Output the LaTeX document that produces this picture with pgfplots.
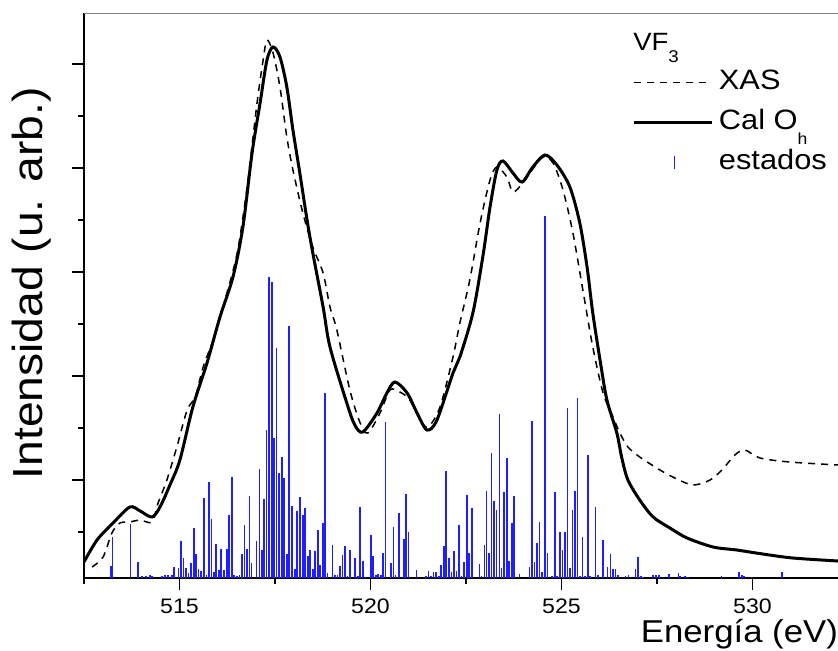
\documentclass[border=0pt]{standalone}
\usepackage{pgfplots}
\pgfplotsset{compat=1.18}
\usepackage{fontspec}
\setmainfont{Liberation Sans}[FakeStretch=1.1]
\definecolor{stemblue}{RGB}{30,30,255}
\begin{document}
\begin{tikzpicture}
\begin{axis}[
  scale only axis, width=377pt, height=282.5pt,
  xmin=512.5, xmax=532.24, ymin=0, ymax=565,
  axis x line*=bottom, axis y line*=left,
  axis line style={-, line width=0.75pt, black},
  xtick={515,520,525,530},
  minor xtick={512.5,517.5,522.5,527.5},
  ytick={98,202,306,410,514}, yticklabels={},
  minor ytick={46,150,254,358,462},
  tick align=outside, major tick length=6pt, minor tick length=3pt,
  tick style={black, line width=0.6pt},
  /pgf/number format/assume math mode=true,
  xticklabel style={/pgf/number format/1000 sep={}, font=\fontsize{10.5}{12}\selectfont, yshift=-1pt},
  xlabel={Energía (eV)},
  xlabel style={at={(axis description cs:1,-0.115)}, anchor=base east, xshift=3.5pt, font=\fontsize{15.8}{18}\selectfont},
  ylabel={Intensidad (u. arb.)},
  ylabel style={at={(axis description cs:-0.069,0.522)}, anchor=center, font=\fontsize{21}{24}\selectfont},
  legend image code/.code={\draw[#1] (0pt,0pt) -- (39pt,0pt);},
  legend style={at={(axis description cs:0.728,0.900)}, anchor=north west, draw=none, fill=none,
    inner sep=0pt, outer sep=0pt, row sep=7pt, font=\fontsize{14}{17}\selectfont,
    nodes={inner sep=0pt, text height=10pt, text depth=3pt},
    /tikz/every even column/.append style={column sep=3pt}},
  legend cell align=left,
]
\addlegendimage{black, line width=0.75pt, dash pattern=on 3.5pt off 3pt}
\addlegendentry{\hspace{2.5pt}XAS}
\addlegendimage{black, line width=1.5pt}
\addlegendentry{\hspace{2.5pt}Cal O\raisebox{-7.5pt}{\fontsize{8}{9}\selectfont h}}
\addlegendimage{legend image code/.code={\draw[stemblue, line width=0.6pt, solid] (20pt,-3.2pt) -- (20pt,3.2pt); \path[draw=none] (0pt,0pt) -- (39pt,0pt);}}
\addlegendentry{\hspace{2.5pt}estados}

% estados (stems)
\addplot[ycomb, stemblue, line width=0.8pt, no marks, forget plot] table {
513.20 12
513.25 41
513.72 54
513.92 16
514.02 2
514.12 2
514.23 3
514.28 2
514.54 2
514.62 3
514.70 3
514.80 3
514.85 11
514.97 10
515.04 37
515.10 20
515.17 10
515.24 5
515.30 15
515.38 50
515.43 24
515.50 9
515.57 7
515.64 80
515.71 3
515.77 96
515.84 59
515.90 6
515.96 34
516.03 8
516.09 29
516.16 8
516.24 29
516.30 63
516.37 101
516.43 3
516.50 2
516.57 3
516.63 24
516.70 53
516.76 29
516.83 82
516.89 15
517.02 37
517.09 109
517.16 28
517.22 79
517.28 148
517.35 301
517.42 296
517.48 140
517.54 230
517.61 105
517.68 121
517.74 100
517.81 24
517.87 252
517.95 72
518.02 9
518.08 67
518.15 81
518.23 63
518.29 70
518.36 22
518.42 28
518.49 9
518.55 27
518.62 48
518.68 13
518.75 55
518.81 185
518.87 5
519.01 33
519.07 3
519.14 3
519.20 12
519.27 23
519.33 32
519.40 2
519.46 28
519.60 20
519.67 2
519.73 71
519.80 17
519.87 1
520.01 43
520.07 22
520.14 3
520.20 4
520.27 3
520.33 25
520.39 156
520.53 15
520.60 51
520.66 3
520.74 65
520.87 39
520.93 84
521.00 46
521.20 8
521.46 2
521.52 7
521.59 2
521.65 6
521.71 6
521.79 2
521.85 13
521.92 32
521.98 107
522.05 20
522.12 6
522.18 27
522.25 7
522.31 53
522.38 2
522.45 16
522.52 83
522.58 25
522.65 70
522.85 14
522.91 2
522.98 33
523.04 87
523.11 25
523.17 125
523.24 77
523.30 68
523.38 164
523.43 10
523.50 86
523.57 120
523.63 17
523.70 55
523.76 82
523.90 4
524.16 11
524.23 157
524.29 16
524.36 35
524.43 56
524.49 6
524.57 362
524.63 25
524.76 2
524.83 86
524.89 2
524.96 46
525.03 28
525.09 46
525.16 170
525.22 10
525.29 68
525.35 87
525.42 180
525.48 2
525.55 41
525.62 2
525.69 123
525.75 2
525.89 71
525.96 3
526.08 38
526.21 11
526.28 24
526.35 9
526.41 9
526.48 3
526.68 2
526.75 3
526.94 9
527.01 21
527.08 2
527.14 1
527.40 3
527.48 3
527.55 3
527.81 4
528.06 5
528.10 2
528.23 2
528.32 1
529.19 2
529.65 6
529.72 3
529.78 2
529.98 1
530.78 6
};

% XAS
\addplot[black, line width=0.75pt, dash pattern=on 3.5pt off 3pt, smooth, no marks, forget plot] table {
512.71 11
513.00 21
513.23 45
513.44 55
513.70 56
513.97 58
514.28 56
514.44 75
514.67 98
514.93 131
515.20 168
515.41 181
515.62 211
515.88 238
516.19 278
516.51 325
516.77 391
517.03 475
517.19 518
517.29 538
517.45 525
517.63 491
517.81 441
517.97 408
518.23 365
518.49 331
518.76 305
518.94 271
519.12 248
519.46 188
519.73 155
519.93 145
520.25 165
520.51 188
520.77 186
521.03 178
521.30 158
521.51 151
521.82 171
522.16 221
522.34 255
522.60 298
522.87 355
523.13 398
523.31 411
523.57 401
523.73 386
523.99 395
524.23 408
524.52 421
524.78 415
525.04 388
525.30 345
525.56 288
525.82 231
526.09 185
526.35 161
526.53 145
526.74 131
527.05 121
527.58 108
527.97 100
528.44 93
528.89 98
529.20 108
529.54 123
529.80 128
530.20 120
530.98 116
532.24 113
};

% Cal Oh
\addplot[black, line width=1.5pt, smooth, no marks, forget plot] table {
512.50 16
512.84 38
513.26 55
513.70 71
513.97 67
514.28 61
514.49 71
514.75 93
515.01 118
515.35 171
515.72 215
516.06 261
516.40 301
516.66 351
516.90 425
517.11 475
517.29 518
517.45 531
517.63 521
517.81 491
517.97 448
518.15 405
518.34 358
518.49 325
518.76 271
518.94 231
519.38 175
519.59 153
519.80 146
520.17 165
520.43 185
520.64 196
520.96 185
521.22 165
521.48 148
521.74 158
522.16 205
522.34 221
522.68 265
522.94 321
523.13 371
523.31 408
523.47 417
523.73 405
523.97 396
524.25 411
524.57 423
524.88 413
525.22 391
525.48 355
525.67 311
525.82 265
526.01 218
526.19 178
526.45 145
526.58 120
526.74 98
527.05 78
527.40 61
527.84 50
528.29 40
528.97 31
529.59 28
530.27 24
531.06 20
532.24 17
};

\draw[gray, line width=1pt] (rel axis cs:0,1) -- (rel axis cs:1,1);
\node[anchor=base west, font=\fontsize{12.5}{15}\selectfont, inner sep=0pt] at (axis description cs:0.728,0.9345) {VF\raisebox{-6pt}{\fontsize{8.5}{10}\selectfont 3}};
\end{axis}
\pgfresetboundingbox
\path (-42pt,-36pt) rectangle (377pt,289pt);
\end{tikzpicture}
\end{document}
